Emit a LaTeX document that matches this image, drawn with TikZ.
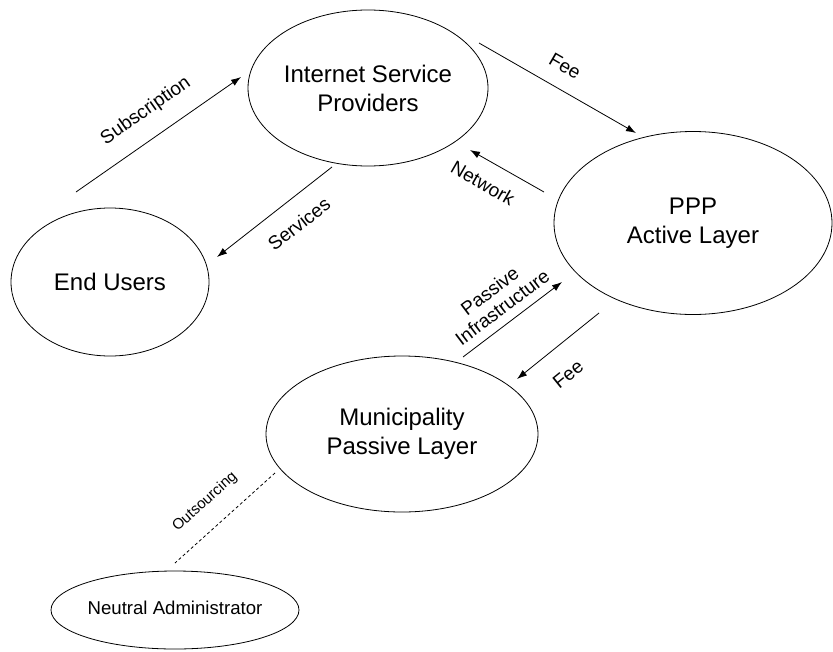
\documentclass[tikz,border=0pt]{standalone}
\usepackage{fontspec}
\setmainfont{Liberation Sans}
\usetikzlibrary{shapes.geometric,arrows.meta}
\begin{document}
\begin{tikzpicture}[x=1pt,y=-1pt,
  ent/.style={draw,ellipse,line width=0.8pt,inner sep=0pt,align=center,font=\fontsize{24}{29}\selectfont},
  lab/.style={font=\fontsize{19}{21}\selectfont,inner sep=0pt,align=center},
  arr/.style={line width=0.8pt,-{Latex[length=10pt,width=7pt]}},
  dashline/.style={line width=0.8pt,dash pattern=on 3pt off 2.5pt}]
\useasboundingbox (0,0) rectangle (833,651);
% entities
\node[ent,minimum width=240,minimum height=156] (isp) at (368,88) {Internet Service\\Providers};
\node[ent,minimum width=198,minimum height=148] (eu) at (110,282) {End Users};
\node[ent,minimum width=278,minimum height=183] (ppp) at (693,223) {PPP\\Active Layer};
\node[ent,minimum width=272,minimum height=156] (mun) at (402,434) {Municipality\\Passive Layer};
\node[ent,minimum width=248,minimum height=78,font=\fontsize{18.6}{22}\selectfont] (na) at (175,610) {\raisebox{5pt}{Neutral Administrator}};
% connector end points
\coordinate (subA) at (76,192);  \coordinate (subB) at (241,77);
\coordinate (feeA) at (479,43);  \coordinate (feeB) at (636,133);
\coordinate (netA) at (544,192); \coordinate (netB) at (470,150);
\coordinate (srvA) at (332,167); \coordinate (srvB) at (217,257);
\coordinate (pasA) at (463,357); \coordinate (pasB) at (562,282);
\coordinate (fe2A) at (599,313); \coordinate (fe2B) at (517,379);
\coordinate (outA) at (275,473); \coordinate (outB) at (175,563);
% connectors
\draw[arr] (subA) -- (subB);
\draw[arr] (feeA) -- (feeB);
\draw[arr] (netA) -- (netB);
\draw[arr] (srvA) -- (srvB);
\draw[arr] (pasA) -- (pasB);
\draw[arr] (fe2A) -- (fe2B);
\draw[dashline] (outA) -- (outB);
% labels
\node[lab,rotate=35] (lsub) at (146,111) {Subscription};
\node[lab,rotate=-30] (lfee) at (565,66) {Fee};
\node[lab,rotate=-30] (lnet) at (483,183) {Network};
\node[lab,rotate=38] (lsrv) at (299,224) {Services};
\node[lab,rotate=37] (lpas) at (496,299) {Passive\\Infrastructure};
\node[lab,rotate=39] (lfe2) at (568,374) {Fee};
\node[lab,rotate=42,font=\fontsize{15}{18}\selectfont] (lout) at (205,502) {Outsourcing};
\end{tikzpicture}
\end{document}
